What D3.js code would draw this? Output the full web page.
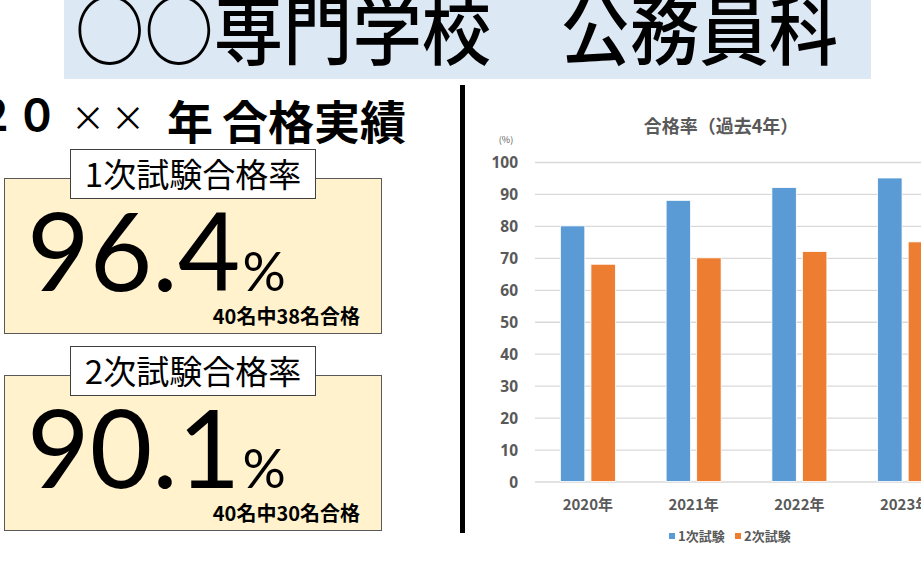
<!DOCTYPE html>
<html><head><meta charset="utf-8">
<script src="https://cdn.jsdelivr.net/npm/d3@7"></script>
<style>
html,body{margin:0;padding:0;background:#fff;overflow:hidden;}
svg{display:block;}
</style></head>
<body>
<script>
// ---- data ----
const years = ["2020年", "2021年", "2022年", "2023年"];
const seriesNames = ["1次試験", "2次試験"];
const firstExam = [80, 88, 92, 95];
const secondExam = [68, 70, 72, 75];
const yTicks = [0, 10, 20, 30, 40, 50, 60, 70, 80, 90, 100];
const colors = ["#5b9bd5", "#ed7d31"];

const pageTitle = "○○専門学校　公務員科";
const subTitleChars = ["２", "０", "×", "×", "年", "合", "格", "実", "績"];
const chartTitle = "合格率（過去4年）";
const unitLabel = "(%)";
const summaryLabels = ["1次試験合格率", "2次試験合格率"];
const summaryRates = ["96.4", "90.1"];
const summaryNotes = ["40名中38名合格", "40名中30名合格"];

const W = 921, H = 565;
const svg = d3.select("body").append("svg").attr("width", W).attr("height", H);
const JP = "'Noto Sans CJK JP','Noto Sans',sans-serif";

// ---- page title ----
svg.append("rect").attr("x", 64).attr("y", 0).attr("width", 807).attr("height", 79).attr("fill", "#dde8f5");
svg.append("text").attr("x", 75).attr("y", 59).attr("font-family", JP).attr("font-weight", 500)
  .attr("font-size", 76).attr("fill", "#000").attr("textLength", 763).attr("lengthAdjust", "spacingAndGlyphs")
  .text(pageTitle);

// ---- subtitle (２０××年 合格実績) ----
const subCenters = [-6, 37, 88, 128, 190, 245, 291, 337, 383];
subTitleChars.forEach((c, i) => {
  const t = svg.append("text").attr("x", subCenters[i]).attr("text-anchor", "middle")
    .attr("font-family", JP).attr("fill", "#000").text(c);
  if (c === "×") t.attr("y", 131).attr("font-weight", 400).attr("font-size", 34);
  else if (i < 2) t.attr("y", 131).attr("font-weight", "bold").attr("font-size", 43);
  else t.attr("y", 139).attr("font-weight", "bold").attr("font-size", 46);
});

// ---- divider ----
svg.append("rect").attr("x", 460).attr("y", 85).attr("width", 5).attr("height", 448).attr("fill", "#000");

// ---- summary boxes ----
summaryLabels.forEach((lab, i) => {
  const dy = i * 197;
  svg.append("rect").attr("x", 4.5).attr("y", 178.5 + dy).attr("width", 377).attr("height", 155)
    .attr("fill", "#fff2cc").attr("stroke", "#595959").attr("stroke-width", 1);
  svg.append("rect").attr("x", 70.5).attr("y", 149.5 + dy).attr("width", 245).attr("height", 49)
    .attr("fill", "#fff").attr("stroke", "#404040").attr("stroke-width", 1);
  svg.append("text").attr("x", 193).attr("y", 187 + dy).attr("text-anchor", "middle").attr("font-family", JP)
    .attr("font-size", 33).attr("fill", "#000").text(lab);
  const t = svg.append("text").attr("x", 27).attr("y", 291 + dy).attr("font-family", "Lato,'Open Sans',sans-serif")
    .attr("fill", "#000");
  t.append("tspan").attr("font-size", 108).text(summaryRates[i]);
  t.append("tspan").attr("font-size", 54).attr("dx", 2).text("%");
  svg.append("text").attr("x", 360).attr("y", 324 + dy).attr("text-anchor", "end").attr("font-family", JP)
    .attr("font-weight", 700).attr("font-size", 20).attr("fill", "#000").text(summaryNotes[i]);
});

// ---- chart ----
const x0 = d3.scaleBand().domain(years).range([535, 958]).paddingInner(0).paddingOuter(0);
const gw = x0.bandwidth() * 0.52;
const x1 = d3.scaleBand().domain(seriesNames).range([(x0.bandwidth() - gw) / 2, (x0.bandwidth() + gw) / 2]).paddingInner(0.2);
const y = d3.scaleLinear().domain([0, 100]).range([481.5, 162]);

svg.append("text").attr("x", 721).attr("y", 133).attr("text-anchor", "middle").attr("font-family", JP)
  .attr("font-weight", 700).attr("font-size", 18).attr("fill", "#595959").text(chartTitle);
svg.append("text").attr("x", 506).attr("y", 143).attr("text-anchor", "middle").attr("font-family", JP)
  .attr("font-size", 9).attr("fill", "#595959").text(unitLabel);

const yAxis = svg.append("g").attr("transform", "translate(535,0)")
  .call(d3.axisLeft(y).tickValues(yTicks).tickSize(-430).tickPadding(17));
yAxis.select(".domain").remove();
yAxis.selectAll(".tick line").attr("stroke", "#d9d9d9").attr("stroke-width", 1.3);
yAxis.selectAll(".tick text").attr("font-family", "'Open Sans',sans-serif").attr("font-weight", 700)
  .attr("font-size", 15.5).attr("fill", "#595959").attr("dy", "0.36em");

const data = years.map((yr, i) => ({ yr, vals: [firstExam[i], secondExam[i]] }));
const groups = svg.append("g").selectAll("g").data(data).join("g")
  .attr("transform", d => `translate(${x0(d.yr)},0)`);
groups.selectAll("rect").data(d => d.vals.map((v, k) => ({ v, k }))).join("rect")
  .attr("x", d => x1(seriesNames[d.k])).attr("width", x1.bandwidth())
  .attr("y", d => y(d.v)).attr("height", d => y(0) - y(d.v))
  .attr("fill", d => colors[d.k]).attr("stroke", "#fff").attr("stroke-width", 0.8);

const xAxis = svg.append("g").attr("transform", `translate(0,${y(0)})`)
  .call(d3.axisBottom(x0).tickSize(0).tickPadding(18));
xAxis.select(".domain").remove();
xAxis.selectAll(".tick text").attr("font-family", JP).attr("font-weight", 700)
  .attr("font-size", 15).attr("fill", "#595959");

// legend
const leg = svg.append("g").attr("transform", "translate(669,533)");
seriesNames.forEach((s, k) => {
  const g = leg.append("g").attr("transform", `translate(${k * 66},0)`);
  g.append("rect").attr("x", 0).attr("y", 0).attr("width", 6).attr("height", 6).attr("fill", colors[k]);
  g.append("text").attr("x", 9).attr("y", 8).attr("font-family", JP).attr("font-weight", 700)
    .attr("font-size", 13).attr("fill", "#595959").text(s);
});
</script>
</body></html>
